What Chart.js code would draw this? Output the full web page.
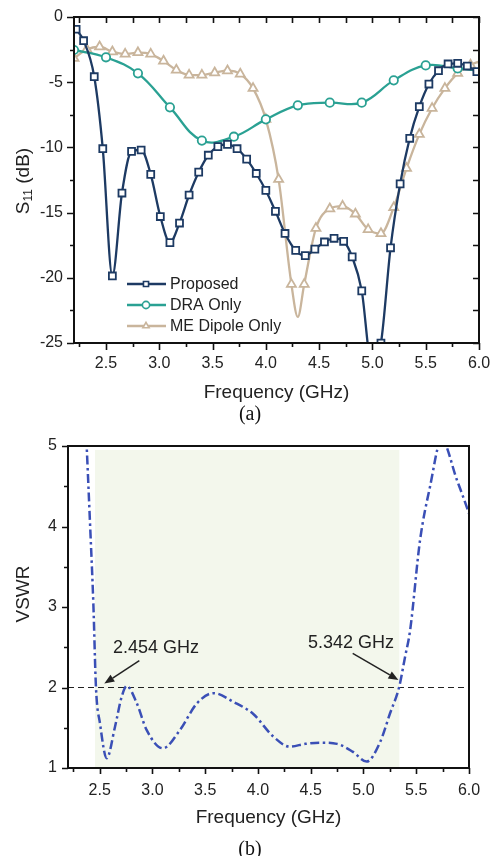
<!DOCTYPE html>
<html>
<head>
<meta charset="utf-8">
<title>S11 and VSWR</title>
<script src="https://cdn.jsdelivr.net/npm/chart.js@4.4.1/dist/chart.umd.min.js"></script>
<style>
  body { margin: 0; background: #fff; width: 493px; height: 856px; position: relative; overflow: hidden; }
  canvas { position: absolute; left: 0; display: block; }
  #chartA { top: 0; }
  #chartB { top: 430px; }
  .cap { position: absolute; font-family: "Liberation Serif", "Times New Roman", serif; font-size: 20px; color: #111; transform: translate(-50%, -50%); }
</style>
</head>
<body>
<canvas id="chartA" width="493" height="430"></canvas>
<canvas id="chartB" width="493" height="426"></canvas>
<div class="cap" style="left:250px;top:413px">(a)</div>
<div class="cap" style="left:250px;top:848px">(b)</div>
<script>
// ---- (a) S11 data ----
const freqProposed = [2.22, 2.29, 2.39, 2.47, 2.56, 2.65, 2.74, 2.83, 2.92, 3.01, 3.10, 3.19, 3.28, 3.37, 3.46, 3.55, 3.64, 3.73, 3.82, 3.91,
  4.00, 4.09, 4.18, 4.28, 4.37, 4.46, 4.55, 4.64, 4.73, 4.81, 4.90, 4.99, 5.08, 5.17, 5.26, 5.35, 5.44, 5.53, 5.62, 5.71, 5.80, 5.89, 5.98];
const s11Proposed = [-0.94, -1.82, -4.58, -10.1, -19.86, -13.5, -10.3, -10.2, -12.07, -15.3, -17.3, -15.8, -13.65, -11.9, -10.6, -9.94, -9.77, -10.1, -10.9, -12.0,
  -13.3, -14.9, -16.6, -17.9, -18.3, -17.8, -17.25, -16.97, -17.2, -18.4, -21.0, -26.5, -25.0, -17.7, -12.8, -9.3, -6.88, -5.14, -4.12, -3.6, -3.55, -3.76, -4.19];

const freqDRA = [2.2, 2.5, 2.8, 3.1, 3.4, 3.7, 4.0, 4.3, 4.6, 4.9, 5.2, 5.5, 5.8, 6.1];
const s11DRA = [-2.53, -3.09, -4.32, -6.93, -9.48, -9.18, -7.85, -6.77, -6.57, -6.57, -4.86, -3.71, -3.94, -4.2];

const freqME = [2.20, 2.32, 2.44, 2.56, 2.68, 2.80, 2.92, 3.04, 3.16, 3.28, 3.40, 3.52, 3.64, 3.76, 3.88, 4.00, 4.12, 4.24, 4.30, 4.36,
  4.47, 4.60, 4.72, 4.84, 4.96, 5.08, 5.20, 5.32, 5.44, 5.56, 5.68, 5.80, 5.92, 6.04];
const s11ME = [-3.17, -2.48, -2.28, -2.66, -2.84, -2.73, -2.84, -3.37, -4.06, -4.45, -4.45, -4.27, -4.12, -4.37, -5.47, -7.85, -12.45, -20.5, -23.0, -20.5,
  -16.2, -14.7, -14.5, -15.1, -16.3, -16.6, -14.6, -11.6, -9.0, -7.0, -5.47, -4.32, -3.68, -3.3];
const meUnmarked = [4.30]; // curve point between markers

const freqTicks = [2.5, 3.0, 3.5, 4.0, 4.5, 5.0, 5.5, 6.0];
const s11Ticks = [0, -5, -10, -15, -20, -25];

// ---- (b) VSWR data ----
const freqVSWR = [2.35, 2.377, 2.41, 2.44, 2.465, 2.503, 2.567, 2.645, 2.709, 2.756, 2.85, 2.946, 3.10, 3.26, 3.42, 3.58, 3.77, 3.956, 4.146, 4.30,
  4.45, 4.59, 4.75, 4.90, 5.03, 5.157, 5.252, 5.337, 5.394, 5.442, 5.536, 5.63, 5.74, 5.885, 6.0, 6.05];
const vswr = [5.8, 5.0, 4.0, 3.05, 2.0, 1.555, 1.12, 1.51, 1.886, 2.02, 1.81, 1.47, 1.245, 1.47, 1.80, 1.93, 1.82, 1.67, 1.39, 1.265,
  1.30, 1.315, 1.30, 1.20, 1.08, 1.32, 1.68, 2.0, 2.38, 2.71, 3.83, 4.49, 5.08, 4.58, 4.16, 3.95];
const vswrTicks = [1, 2, 3, 4, 5];
const vswrLimit = 2;
const bandEdges = [2.454, 5.342];
const bandTop = 4.95;

const FONT = '"Liberation Sans", Arial, sans-serif';
const INK = '#222';
const NAVY = '#1d3a63';
const TEAL = '#2aa193';
const TAN = '#c9b59c';
const BLUE = '#3a4fb6';

function pts(xs, ys) {
  return xs.map((x, i) => ({ x: x, y: ys[i] }));
}

function near(a, b) {
  return Math.abs(a - b) < 1e-6;
}

// box around the plot plus major/minor tick marks
function frameTicks(o) {
  return {
    id: 'frameTicks',
    afterDatasetsDraw(chart) {
      const { ctx, chartArea: a, scales } = chart;
      const xs = scales.x, ys = scales.y;
      ctx.save();
      ctx.strokeStyle = '#111';
      ctx.lineWidth = 1.6;
      ctx.beginPath();
      const start = (min, step) => Math.ceil(min / step - 1e-9) * step;
      for (let v = start(xs.min, o.xMinor); v <= xs.max + 1e-9; v += o.xMinor) {
        const p = Math.round(xs.getPixelForValue(v)) + 0.5;
        const major = near(v / o.xMajor, Math.round(v / o.xMajor));
        ctx.moveTo(p, a.bottom);
        ctx.lineTo(p, a.bottom + (major ? o.len : o.minorLen));
        if (o.mirror) {
          ctx.moveTo(p, a.top);
          ctx.lineTo(p, a.top + o.mirrorLen);
        }
      }
      for (let v = start(ys.min, o.yMinor); v <= ys.max + 1e-9; v += o.yMinor) {
        const p = Math.round(ys.getPixelForValue(v)) + 0.5;
        const major = near(v / o.yMajor, Math.round(v / o.yMajor));
        ctx.moveTo(a.left, p);
        ctx.lineTo(a.left - (major ? o.len : o.minorLen), p);
        if (o.mirror) {
          ctx.moveTo(a.right, p);
          ctx.lineTo(a.right - o.mirrorLen, p);
        }
      }
      ctx.stroke();
      ctx.lineWidth = 2;
      ctx.strokeRect(a.left, a.top, a.right - a.left, a.bottom - a.top);
      ctx.restore();
    }
  };
}

// axis titles, y title may carry a subscript
function axisTitles(o) {
  return {
    id: 'axisTitles',
    afterDraw(chart) {
      const { ctx, chartArea: a } = chart;
      ctx.save();
      ctx.fillStyle = INK;
      ctx.textBaseline = 'middle';
      ctx.textAlign = 'center';
      ctx.font = '19px ' + FONT;
      ctx.fillText(o.xTitle, (a.left + a.right) / 2, o.xTitleY);

      ctx.translate(o.yTitleX, o.yTitleY);
      ctx.rotate(-Math.PI / 2);
      ctx.textAlign = 'left';
      ctx.textBaseline = 'alphabetic';
      const parts = o.yTitle;
      let w = 0;
      parts.forEach(p => {
        ctx.font = (p.sub ? '12px ' : '19px ') + FONT;
        w += ctx.measureText(p.t).width;
      });
      let cx = -w / 2;
      parts.forEach(p => {
        ctx.font = (p.sub ? '12px ' : '19px ') + FONT;
        ctx.fillText(p.t, cx, p.sub ? 10 : 7);
        cx += ctx.measureText(p.t).width;
      });
      ctx.restore();
    }
  };
}

// legend drawn inside the plot: line sample with marker
const innerLegend = {
  id: 'innerLegend',
  afterDatasetsDraw(chart) {
    const ctx = chart.ctx;
    ctx.save();
    ctx.font = '16px ' + FONT;
    ctx.textBaseline = 'middle';
    ctx.fillStyle = INK;
    chart.data.datasets.forEach((ds, i) => {
      const y = 284 + i * 21;
      ctx.strokeStyle = ds.borderColor;
      ctx.lineWidth = 2.3;
      ctx.beginPath();
      ctx.moveTo(127, y);
      ctx.lineTo(166, y);
      ctx.stroke();
      ctx.fillStyle = '#fff';
      ctx.lineWidth = 1.6;
      Chart.helpers.drawPoint(ctx, { pointStyle: ds.pointStyle, radius: 3.6, borderWidth: 1.6, rotation: 0 }, 146, y);
      ctx.fillStyle = INK;
      ctx.fillText(ds.label, 170, y + 1);
    });
    ctx.restore();
  }
};

// arrows with frequency labels
function arrowNotes(notes) {
  return {
    id: 'arrowNotes',
    afterDatasetsDraw(chart) {
      const { ctx, scales: { x, y } } = chart;
      ctx.save();
      ctx.fillStyle = INK;
      ctx.strokeStyle = INK;
      ctx.font = '18px ' + FONT;
      ctx.textBaseline = 'alphabetic';
      notes.forEach(n => {
        ctx.fillText(n.text, x.getPixelForValue(n.at[0]), y.getPixelForValue(n.at[1]));
        const x0 = x.getPixelForValue(n.from[0]), y0 = y.getPixelForValue(n.from[1]);
        const x1 = x.getPixelForValue(n.to[0]), y1 = y.getPixelForValue(n.to[1]);
        const ang = Math.atan2(y1 - y0, x1 - x0);
        const hl = 10, hw = 4;
        const bx = x1 - hl * Math.cos(ang), by = y1 - hl * Math.sin(ang);
        ctx.lineWidth = 1.5;
        ctx.beginPath();
        ctx.moveTo(x0, y0);
        ctx.lineTo(bx, by);
        ctx.stroke();
        ctx.beginPath();
        ctx.moveTo(x1, y1);
        ctx.lineTo(bx + hw * Math.sin(ang), by - hw * Math.cos(ang));
        ctx.lineTo(bx - hw * Math.sin(ang), by + hw * Math.cos(ang));
        ctx.closePath();
        ctx.fill();
      });
      ctx.restore();
    }
  };
}

// tick marks themselves are drawn by frameTicks; the invisible grid ticks only set the label gap
function hiddenGrid(gap) {
  return { display: true, drawOnChartArea: false, drawTicks: true, tickLength: gap, color: 'rgba(0,0,0,0)' };
}

function axisX(tickVals, height, gap) {
  return {
    type: 'linear', min: 2.2, max: 6.0,
    afterBuildTicks: s => { s.ticks = tickVals.map(v => ({ value: v })); },
    afterFit: s => { s.height = height; },
    grid: hiddenGrid(gap),
    border: { display: false },
    ticks: { font: { family: FONT, size: 16 }, color: INK, padding: 0, maxRotation: 0, autoSkip: false, callback: v => v.toFixed(1) }
  };
}

function axisY(min, max, tickVals, width, gap) {
  return {
    type: 'linear', min: min, max: max,
    afterBuildTicks: s => { s.ticks = tickVals.map(v => ({ value: v })); },
    afterFit: s => { s.width = width; },
    grid: hiddenGrid(gap),
    border: { display: false },
    ticks: { font: { family: FONT, size: 16 }, color: INK, padding: 0, autoSkip: false, callback: v => String(v) }
  };
}

const common = {
  responsive: false,
  animation: false,
  events: [],
  parsing: false,
  plugins: { legend: { display: false }, tooltip: { enabled: false } }
};

function series(label, xs, ys, color, style, r, mode, unmarked) {
  return {
    label: label,
    data: pts(xs, ys),
    borderColor: color,
    borderWidth: 2.3,
    backgroundColor: '#fff',
    pointStyle: style,
    pointRadius: ctx => (unmarked && ctx.raw && unmarked.some(u => near(u, ctx.raw.x)) ? 0 : r),
    pointBorderWidth: 1.8,
    pointBorderColor: color,
    pointBackgroundColor: '#fff',
    cubicInterpolationMode: mode,
    tension: 0.4,
    fill: false
  };
}

new Chart(document.getElementById('chartA'), {
  type: 'line',
  data: {
    datasets: [
      series('Proposed', freqProposed, s11Proposed, NAVY, 'rect', 4.9, 'monotone'),
      series('DRA Only', freqDRA, s11DRA, TEAL, 'circle', 4.2, 'default'),
      series('ME Dipole Only', freqME, s11ME, TAN, 'triangle', 5.2, 'monotone', meUnmarked)
    ]
  },
  options: Object.assign({}, common, {
    layout: { padding: { top: 17, right: 14, left: 0, bottom: 0 } },
    scales: {
      x: axisX(freqTicks, 87, 11),
      y: axisY(-25, 0, s11Ticks, 74, 11)
    }
  }),
  plugins: [
    frameTicks({ xMajor: 0.5, xMinor: 0.25, yMajor: 5, yMinor: 2.5, len: 7, minorLen: 4, mirror: true, mirrorLen: 6 }),
    axisTitles({ xTitle: 'Frequency (GHz)', xTitleY: 393, yTitleX: 22, yTitleY: 181,
      yTitle: [{ t: 'S' }, { t: '11', sub: true }, { t: ' (dB)' }] }),
    innerLegend
  ]
});

new Chart(document.getElementById('chartB'), {
  type: 'line',
  data: {
    datasets: [
      {
        label: 'VSWR',
        data: pts(freqVSWR, vswr),
        borderColor: BLUE,
        borderWidth: 2.5,
        borderDash: [9, 3.5, 2.5, 3.5],
        pointRadius: 0,
        cubicInterpolationMode: 'monotone',
        fill: false
      },
      {
        label: 'VSWR = 2',
        data: [{ x: 2.2, y: vswrLimit }, { x: 6.0, y: vswrLimit }],
        borderColor: INK,
        borderWidth: 1.2,
        borderDash: [6, 4],
        pointRadius: 0,
        fill: false
      },
      {
        label: 'Band',
        data: [{ x: bandEdges[0], y: bandTop }, { x: bandEdges[1], y: bandTop }],
        borderWidth: 0,
        borderColor: 'rgba(0,0,0,0)',
        backgroundColor: '#f3f7ec',
        pointRadius: 0,
        fill: { value: 1 }
      }
    ]
  },
  options: Object.assign({}, common, {
    layout: { padding: { top: 16, right: 24, left: 0, bottom: 0 } },
    scales: {
      x: axisX(freqTicks, 88, 13),
      y: axisY(1, 5, vswrTicks, 68, 11)
    }
  }),
  plugins: [
    frameTicks({ xMajor: 0.5, xMinor: 0.25, yMajor: 1, yMinor: 0.5, len: 6, minorLen: 4, mirror: false }),
    axisTitles({ xTitle: 'Frequency (GHz)', xTitleY: 388, yTitleX: 22, yTitleY: 164,
      yTitle: [{ t: 'VSWR' }] }),
    arrowNotes([
      { text: '2.454 GHz', at: [2.627, 2.43], from: [2.876, 2.333], to: [2.544, 2.05] },
      { text: '5.342 GHz', at: [4.475, 2.49], from: [4.898, 2.425], to: [5.331, 2.093] }
    ])
  ]
});
</script>
</body>
</html>
